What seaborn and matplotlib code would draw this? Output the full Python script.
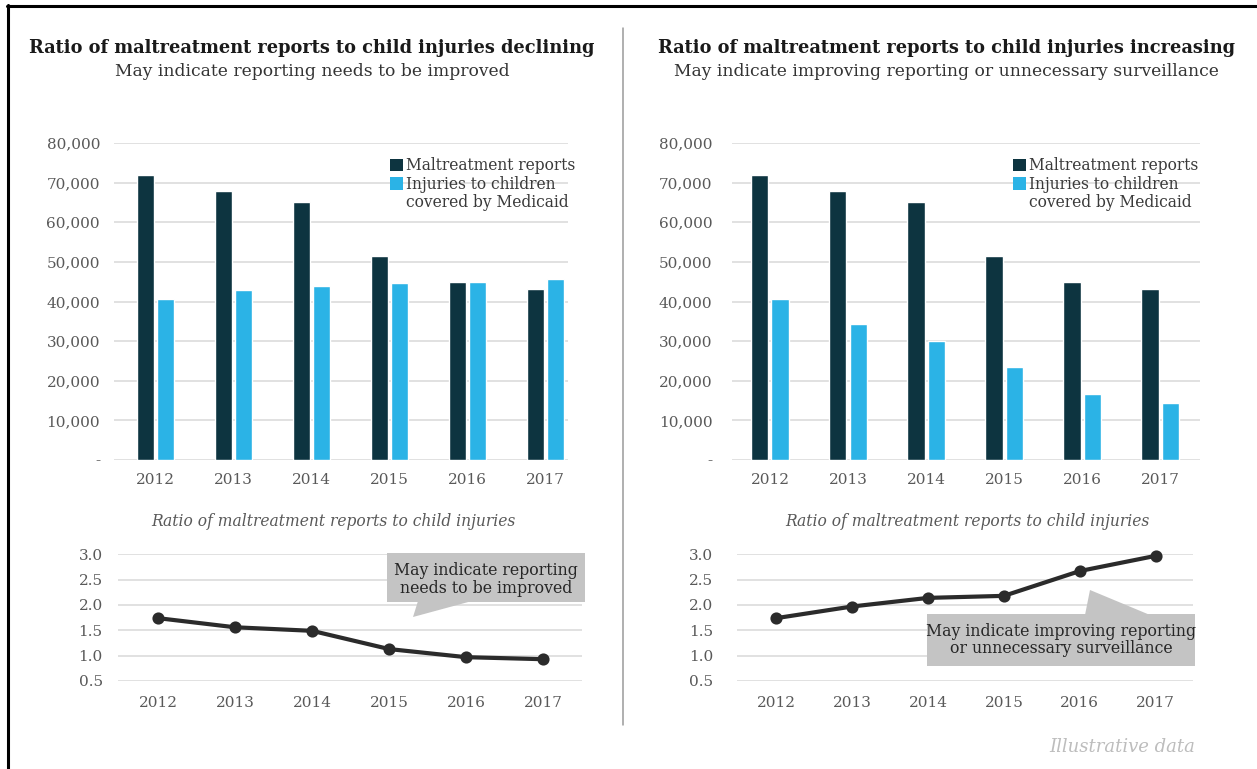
import matplotlib
matplotlib.use("Agg")
import matplotlib.pyplot as plt
import seaborn as sns
import pandas as pd
from matplotlib.patches import Patch, Rectangle, Polygon
from matplotlib.lines import Line2D

# ---- data -------------------------------------------------------------
years = ["2012", "2013", "2014", "2015", "2016", "2017"]
reports = [72000, 68000, 65200, 51500, 45000, 43100]
injuries_declining = [40600, 42800, 43900, 44700, 45000, 45800]
injuries_increasing = [40600, 34300, 30000, 23500, 16700, 14400]
ratio_declining = [1.74, 1.56, 1.49, 1.13, 0.97, 0.93]
ratio_increasing = [1.74, 1.97, 2.14, 2.18, 2.67, 2.97]

bar_ticks = [0, 10000, 20000, 30000, 40000, 50000, 60000, 70000, 80000]
bar_tick_labels = ["-", "10,000", "20,000", "30,000", "40,000",
                   "50,000", "60,000", "70,000", "80,000"]
ratio_ticks = [0.5, 1.0, 1.5, 2.0, 2.5, 3.0]
ratio_tick_labels = ["0.5", "1.0", "1.5", "2.0", "2.5", "3.0"]

series_names = ["Maltreatment reports", "Injuries to children covered by Medicaid"]
legend_labels = ["Maltreatment reports", "Injuries to children", "covered by Medicaid"]

titles = ["Ratio of maltreatment reports to child injuries declining",
          "Ratio of maltreatment reports to child injuries increasing"]
subtitles = ["May indicate reporting needs to be improved",
             "May indicate improving reporting or unnecessary surveillance"]
ratio_caption = "Ratio of maltreatment reports to child injuries"
callouts = ["May indicate reporting\nneeds to be improved",
            "May indicate improving reporting\nor unnecessary surveillance"]
footnote = "Illustrative data"

# ---- style ------------------------------------------------------------
DARK = "#0d3440"
LIGHT = "#2bb3e6"
LINE = "#2b2b2b"
GRID = "#d9d9d9"
TICK = "#595959"
BOX = "#c4c4c4"
SERIF = "DejaVu Serif"

sns.set_theme(style="white")
plt.rcParams["font.family"] = [SERIF, "Liberation Serif"]

W, H = 1257, 769
fig = plt.figure(figsize=(W / 100, H / 100), dpi=100)
fig.patch.set_facecolor("white")


def fx(x):
    return x / W


def fy(y):
    return 1 - y / H


def add_axes_px(x0, x1, ytop, ybot):
    return fig.add_axes([fx(x0), fy(ybot), fx(x1) - fx(x0), fy(ytop) - fy(ybot)])


def style_axis(ax, ypad, xpad):
    sns.despine(ax=ax, left=True, bottom=True)
    ax.yaxis.grid(True, color=GRID, lw=1.1)
    ax.xaxis.grid(False)
    ax.set_axisbelow(True)
    ax.tick_params(axis="both", length=0, colors=TICK, labelsize=11)
    ax.tick_params(axis="y", pad=ypad)
    ax.tick_params(axis="x", pad=xpad)
    for lab in ax.get_xticklabels() + ax.get_yticklabels():
        lab.set_fontfamily(SERIF)
    ax.set_xlabel("")
    ax.set_ylabel("")


def bar_panel(x0, x1, injuries, xlim, ypad, legend_x):
    ax = add_axes_px(x0, x1, 143, 460)
    df = pd.DataFrame({
        "year": years * 2,
        "value": reports + injuries,
        "series": [series_names[0]] * len(years) + [series_names[1]] * len(years),
    })
    sns.barplot(data=df, x="year", y="value", hue="series",
                palette=[DARK, LIGHT], saturation=1, width=0.52, gap=0.15,
                legend=False, ax=ax)
    ax.set_ylim(0, 80000)
    ax.set_xlim(*xlim)
    ax.set_yticks(bar_ticks)
    ax.set_yticklabels(bar_tick_labels)
    style_axis(ax, ypad, 9)
    handles = [Patch(facecolor=DARK, edgecolor="none"),
               Patch(facecolor=LIGHT, edgecolor="none"),
               Patch(facecolor="none", edgecolor="none")]
    ax.legend(handles, legend_labels, loc="upper left",
              bbox_to_anchor=(legend_x, 0.955), frameon=False,
              handlelength=0.85, handleheight=0.85, handletextpad=0.2,
              labelspacing=0.1, borderpad=0, borderaxespad=0,
              prop={"family": SERIF, "size": 11.2}, labelcolor="#3a3a3a")
    return ax


def ratio_panel(x0, x1, ratios, xlim, ypad):
    ax = add_axes_px(x0, x1, 554.3, 681)
    df = pd.DataFrame({"year": years, "ratio": ratios})
    sns.pointplot(data=df, x="year", y="ratio", color=LINE, markers="o",
                  errorbar=None, linewidth=3, markersize=6.5, clip_on=False,
                  ax=ax)
    ax.set_ylim(0.5, 3.0)
    ax.set_xlim(*xlim)
    ax.set_yticks(ratio_ticks)
    ax.set_yticklabels(ratio_tick_labels)
    style_axis(ax, ypad, 11)
    return ax


bar_panel(114, 568, injuries_declining, (-0.53, 5.29), 10, 0.607)
bar_panel(731.7, 1200, injuries_increasing, (-0.49, 5.51), 14, 0.600)
ratio_panel(118, 581.7, ratio_declining, (-0.52, 5.5), 11)
ratio_panel(736.7, 1193, ratio_increasing, (-0.52, 5.49), 17)

# ---- titles and captions ----------------------------------------------
for cx, title, sub in [(312, titles[0], subtitles[0]), (946, titles[1], subtitles[1])]:
    fig.text(fx(cx), fy(48), title, ha="center", va="center",
             fontsize=12.8, fontweight="bold", color="#1a1a1a", family=SERIF)
    fig.text(fx(cx), fy(71), sub, ha="center", va="center",
             fontsize=12.3, color="#333333", family=SERIF)

for cx in (333, 967):
    fig.text(fx(cx), fy(521), ratio_caption, ha="center", va="center",
             fontsize=11.2, style="italic", color=TICK, family=SERIF)

fig.text(fx(1195), fy(747), footnote, ha="right", va="center",
         fontsize=13, style="italic", color="#bdbdbd", family=SERIF)

# ---- callout boxes ----------------------------------------------------
def callout(rect, tri, text, tx, ty):
    (x0, y0), (x1, y1) = rect
    fig.add_artist(Rectangle((fx(x0), fy(y1)), fx(x1) - fx(x0), fy(y0) - fy(y1),
                             transform=fig.transFigure, facecolor=BOX,
                             edgecolor="none", zorder=5))
    fig.add_artist(Polygon([(fx(x), fy(y)) for x, y in tri], closed=True,
                           transform=fig.transFigure, facecolor=BOX,
                           edgecolor="none", zorder=5))
    fig.text(fx(tx), fy(ty), text, ha="center", va="center", fontsize=11.3,
             color="#262626", family=SERIF, linespacing=1.05, zorder=6)


callout(((386.7, 552.7), (585, 601.7)),
        [(413, 617), (418, 601), (472, 601)],
        callouts[0], 486, 579.5)
callout(((926.7, 614.3), (1195, 666)),
        [(1085, 615), (1090, 590), (1150, 615)],
        callouts[1], 1061, 640)

# ---- frame and divider ------------------------------------------------
fig.add_artist(Line2D([fx(8), fx(8)], [fy(5), 0], transform=fig.transFigure,
                      color="black", lw=2.2))
fig.add_artist(Line2D([fx(7), 1], [fy(5.5), fy(5.5)], transform=fig.transFigure,
                      color="black", lw=2.2))
fig.add_artist(Line2D([fx(622.5), fx(622.5)], [fy(28), fy(725)],
                      transform=fig.transFigure, color="#9a9a9a", lw=1.1))

fig.savefig("out.png", dpi=100, facecolor="white")
